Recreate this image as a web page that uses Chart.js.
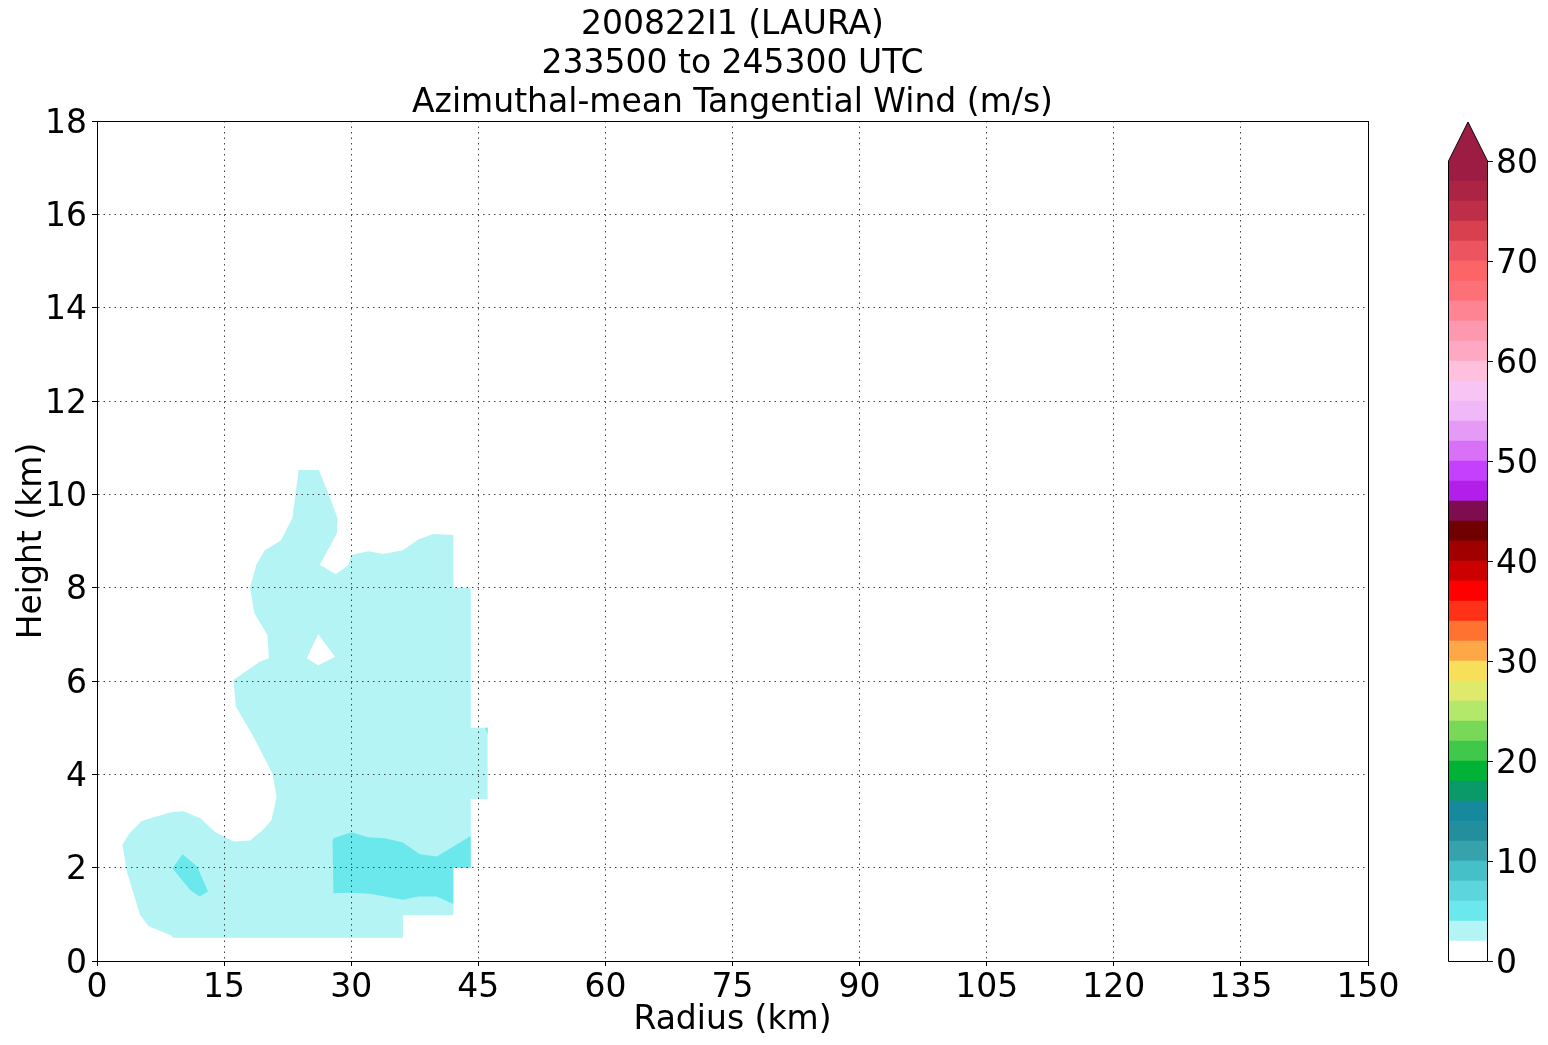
<!DOCTYPE html>
<html><head><meta charset="utf-8">
<script src="https://cdn.jsdelivr.net/npm/chart.js@4/dist/chart.umd.min.js"></script>
<style>
html,body{margin:0;padding:0;background:#fff;}
#wrap{position:relative;width:1548px;height:1045px;overflow:hidden;}
#main{position:absolute;left:0;top:0;}
#cbar{position:absolute;left:1400px;top:0;}
</style></head><body>
<div id="wrap"><canvas id="main" width="1548" height="1045"></canvas><canvas id="cbar" width="148" height="1045"></canvas></div>
<script>
// ---------------- data ----------------
const titleLines = ['200822I1 (LAURA)', '233500 to 245300 UTC', 'Azimuthal-mean Tangential Wind (m/s)'];
const xTitle = 'Radius (km)';
const yTitle = 'Height (km)';
const radiusTicks = [0, 15, 30, 45, 60, 75, 90, 105, 120, 135, 150];
const heightTicks = [0, 2, 4, 6, 8, 10, 12, 14, 16, 18];
const windTicks = [0, 10, 20, 30, 40, 50, 60, 70, 80];
const windLevels = [0,2,4,6,8,10,12,14,16,18,20,22,24,26,28,30,32,34,36,38,40,42,44,46,48,50,52,54,56,58,60,62,64,66,68,70,72,74,76,78,80];
const windColors = ['#ffffff','#b4f4f4','#6ae8ec','#5cd6dc','#46c0c8','#36a2ac','#238e9e','#16899f','#0a9a6a','#00b236',
  '#40c84a','#78d858','#b4e86a','#dfe96c','#f8df5a','#fca846','#ff7230','#ff3218','#ff0000','#cc0000',
  '#a00000','#700000','#800c50','#b21eea','#c440fc','#d870f8','#e69af8','#f0b8f8','#f8c4f4','#fec0dc',
  '#fea8c4','#fe98b0','#fe8494','#fe7078','#fc6468','#ec5560','#d84050','#bf2e48','#ac2444','#9c1c44'];
const extendColor = '#9c1c44';

// contour regions: [radius km, height km] vertices
const region2to4 = [[9.0,0.5],[36.1,0.5],[36.1,0.98],[42.05,0.98],[42.05,2.0],[44.1,2.0],[44.1,3.47],[46.1,3.47],[46.1,5.0],[44.1,5.0],[44.1,8.0],[42.05,8.0],
  [42.05,9.13],[39.7,9.15],[37.9,9.03],[36.1,8.8],[33.8,8.72],[32.0,8.78],[30.0,8.7],[29.7,8.49],[28.2,8.29],[26.3,8.49],[28.3,9.16],[28.4,9.49],
  [27.3,10.02],[26.2,10.52],[23.8,10.52],[23.05,9.49],[21.7,9.01],[19.8,8.8],[18.8,8.49],[18.06,8.0],[18.57,7.45],[20.1,6.99],[20.3,6.49],[19.2,6.41],
  [16.1,6.02],[16.4,5.45],[18.45,4.81],[20.7,4.02],[21.2,3.52],[20.6,3.02],[19.6,2.81],[18.06,2.58],[16.1,2.56],[13.9,2.77],[12.2,3.06],[10.2,3.21],
  [8.6,3.18],[5.27,3.0],[3.8,2.73],[3.0,2.49],[3.5,1.93],[4.3,1.45],[5.07,0.99],[6.06,0.75],[8.7,0.55]];
const region0to2Hole = [[26.1,7.0],[28.1,6.52],[26.1,6.34],[24.75,6.49]];
const region4to6A = [[10.1,2.29],[11.85,2.02],[13.1,1.49],[12.1,1.38],[11.0,1.52],[8.9,1.99]];
const region4to6B = [[27.8,2.55],[27.9,2.63],[30.05,2.76],[32.0,2.65],[34.0,2.63],[36.1,2.54],[38.1,2.29],[40.1,2.24],[42.6,2.51],[44.1,2.68],[44.1,2.0],
  [42.05,2.0],[42.05,1.22],[40.1,1.38],[37.9,1.38],[36.1,1.31],[34.6,1.36],[32.2,1.44],[30.05,1.46],[27.9,1.45]];
const region4to6C = [[45.8,5.0],[46.1,5.0],[46.1,4.86]];

// ---------------- charts ----------------
Chart.defaults.font.family = "'DejaVu Sans', 'Liberation Sans', sans-serif";
Chart.defaults.color = '#000';

const regions = [
  {pts: region4to6A, color: windColors[2], order: 1},
  {pts: region4to6B, color: windColors[2], order: 1},
  {pts: region4to6C, color: windColors[2], order: 1},
  {pts: region0to2Hole, color: windColors[0], order: 2},
  {pts: region2to4, color: windColors[1], order: 3}
];

const frame = {
  id: 'frame',
  afterDraw(c) {
    const {ctx, chartArea: a} = c;
    ctx.save();
    ctx.strokeStyle = '#000';
    ctx.lineWidth = 1;
    ctx.strokeRect(Math.round(a.left) + 0.5, Math.round(a.top) + 0.5, Math.round(a.right - a.left), Math.round(a.bottom - a.top));
    ctx.restore();
  }
};

const tickFont = {size: 33};
new Chart(document.getElementById('main'), {
  type: 'line',
  data: {
    datasets: regions.map(r => ({
      data: r.pts.map(p => ({x: p[0], y: p[1]})),
      backgroundColor: r.color, borderColor: r.color, borderWidth: 0,
      pointRadius: 0, pointHoverRadius: 0, fill: 'shape', tension: 0, order: r.order
    }))
  },
  options: {
    responsive: false, animation: false, devicePixelRatio: 1,
    events: [],
    layout: {padding: {left: 0, top: 0, right: 180, bottom: 0}},
    plugins: {
      legend: {display: false}, tooltip: {enabled: false},
      title: {display: true, text: titleLines, fullSize: false, color: '#000',
        font: {size: 33, weight: 'normal', lineHeight: '39px'}, padding: {top: 6, bottom: -2}}
    },
    scales: {
      x: {
        type: 'linear', min: 0, max: 150,
        afterBuildTicks: s => { s.ticks = radiusTicks.map(v => ({value: v})); },
        afterFit: s => { s.height = 84; },
        grid: {z: 1, color: '#444', lineWidth: 1, tickLength: 5, tickColor: '#000', tickWidth: 1},
        border: {z: 1, color: '#000', width: 1, dash: [1.5, 4]},
        ticks: {color: '#000', font: tickFont, padding: 3, maxRotation: 0, autoSkip: false},
        title: {display: true, text: xTitle, color: '#000', font: {size: 33}, padding: {top: 0, bottom: 4.7}}
      },
      y: {
        type: 'linear', min: 0, max: 18,
        afterBuildTicks: s => { s.ticks = heightTicks.map(v => ({value: v})); },
        afterFit: s => { s.width = 97; },
        grid: {z: 1, color: '#444', lineWidth: 1, tickLength: 5, tickColor: '#000', tickWidth: 1},
        border: {z: 1, color: '#000', width: 1, dash: [1.5, 4]},
        ticks: {color: '#000', font: tickFont, padding: 5, labelOffset: 3, autoSkip: false},
        title: {display: true, text: yTitle, color: '#000', font: {size: 33}, padding: {top: 12.7, bottom: 0}}
      }
    }
  },
  plugins: [frame]
});

const cbarOutline = {
  id: 'cbarOutline',
  afterDraw(c) {
    const {ctx, chartArea: a} = c;
    const L = Math.round(a.left) + 0.5, R = Math.round(a.right) - 0.5;
    const T = Math.round(a.top), B = Math.round(a.bottom) + 0.5;
    const M = (L + R) / 2, tip = T - 39;
    ctx.save();
    ctx.fillStyle = extendColor;
    ctx.beginPath(); ctx.moveTo(L, T + 0.5); ctx.lineTo(M, tip); ctx.lineTo(R, T + 0.5); ctx.closePath(); ctx.fill();
    ctx.strokeStyle = '#000'; ctx.lineWidth = 1;
    ctx.beginPath(); ctx.moveTo(L, B); ctx.lineTo(L, T); ctx.lineTo(M, tip); ctx.lineTo(R, T); ctx.lineTo(R, B); ctx.closePath(); ctx.stroke();
    ctx.restore();
  }
};

new Chart(document.getElementById('cbar'), {
  type: 'bar',
  data: {
    labels: [''],
    datasets: windColors.map((col, i) => ({
      data: [windLevels[i + 1] - windLevels[i]], backgroundColor: col, borderWidth: 0,
      barPercentage: 1, categoryPercentage: 1
    }))
  },
  options: {
    responsive: false, animation: false, devicePixelRatio: 1, events: [],
    layout: {padding: {left: 48, top: 161, right: 0, bottom: 84}},
    plugins: {legend: {display: false}, tooltip: {enabled: false}, title: {display: false}},
    scales: {
      x: {display: false, stacked: true},
      y: {
        stacked: true, position: 'right', min: 0, max: 80,
        afterBuildTicks: s => { s.ticks = windTicks.map(v => ({value: v})); },
        afterFit: s => { s.width = 60; },
        grid: {drawOnChartArea: false, tickLength: 5, tickColor: '#000', tickWidth: 1},
        border: {display: false},
        ticks: {color: '#000', font: tickFont, padding: 3, labelOffset: 3, autoSkip: false}
      }
    }
  },
  plugins: [cbarOutline]
});
</script>
</body></html>
